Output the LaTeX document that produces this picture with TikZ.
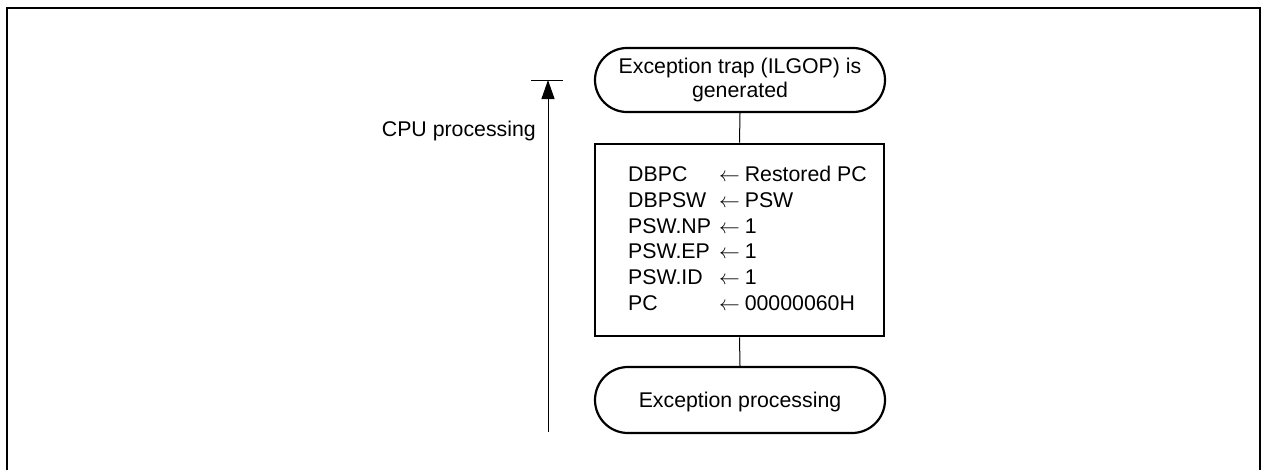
\documentclass[tikz,border=0pt]{standalone}
\usepackage{fontspec}
\setmainfont{Liberation Sans}
\usetikzlibrary{shapes.misc,arrows.meta}
\newcommand{\myarr}{{\fontsize{21}{21}\selectfont$\leftarrow$}}
\begin{document}
\begin{tikzpicture}[x=1pt,y=-1pt,
  every node/.style={font=\fontsize{21.3}{24}\selectfont},
  term/.style={draw,line width=2.2pt,rounded rectangle,minimum width=290pt,inner sep=0pt,align=center},
  procbox/.style={draw,line width=2.8pt,minimum width=289pt,minimum height=192pt,inner sep=0pt},
  conn/.style={line width=1pt},
  frame/.style={line width=2pt}]
\useasboundingbox (0,0) rectangle (1261,469);
\draw[frame] (6.7,470) -- (6.7,8.3) -- (1260,8.3) -- (1260,470);
\node[term,minimum height=64pt] (t1) at (740,80) {Exception trap (ILGOP) is\\generated};
\node[procbox] (box) at (739.5,240) {};
\node[anchor=west,inner sep=0pt,font=\fontsize{21.3}{25.7}\selectfont] (regs) at (628,241)
 {\begin{tabular}{@{}l@{\hspace{8pt}}l@{\hspace{5pt}}l@{}}
 DBPC & \myarr & Restored PC\\
 DBPSW & \myarr & PSW\\
 PSW.NP & \myarr & 1\\
 PSW.EP & \myarr & 1\\
 PSW.ID & \myarr & 1\\
 PC & \myarr & 00000060H
 \end{tabular}};
\node[term,minimum height=66pt,text height=15pt,text depth=0pt] (t2) at (740,400) {Exception processing};
\draw[conn] (t1.south) -- (box.north);
\draw[conn] (box.south) -- (t2.north);
\coordinate (abot) at (548,432);
\coordinate (atop) at (548,80);
\coordinate (barl) at (531,80);
\coordinate (barr) at (563,80);
\draw[conn,-{Triangle[length=19pt,width=13pt]}] (abot) -- (atop);
\draw[conn] (barl) -- (barr);
\node[anchor=base east,inner sep=0pt] (cpu) at (536,136) {CPU processing};
\end{tikzpicture}
\end{document}
